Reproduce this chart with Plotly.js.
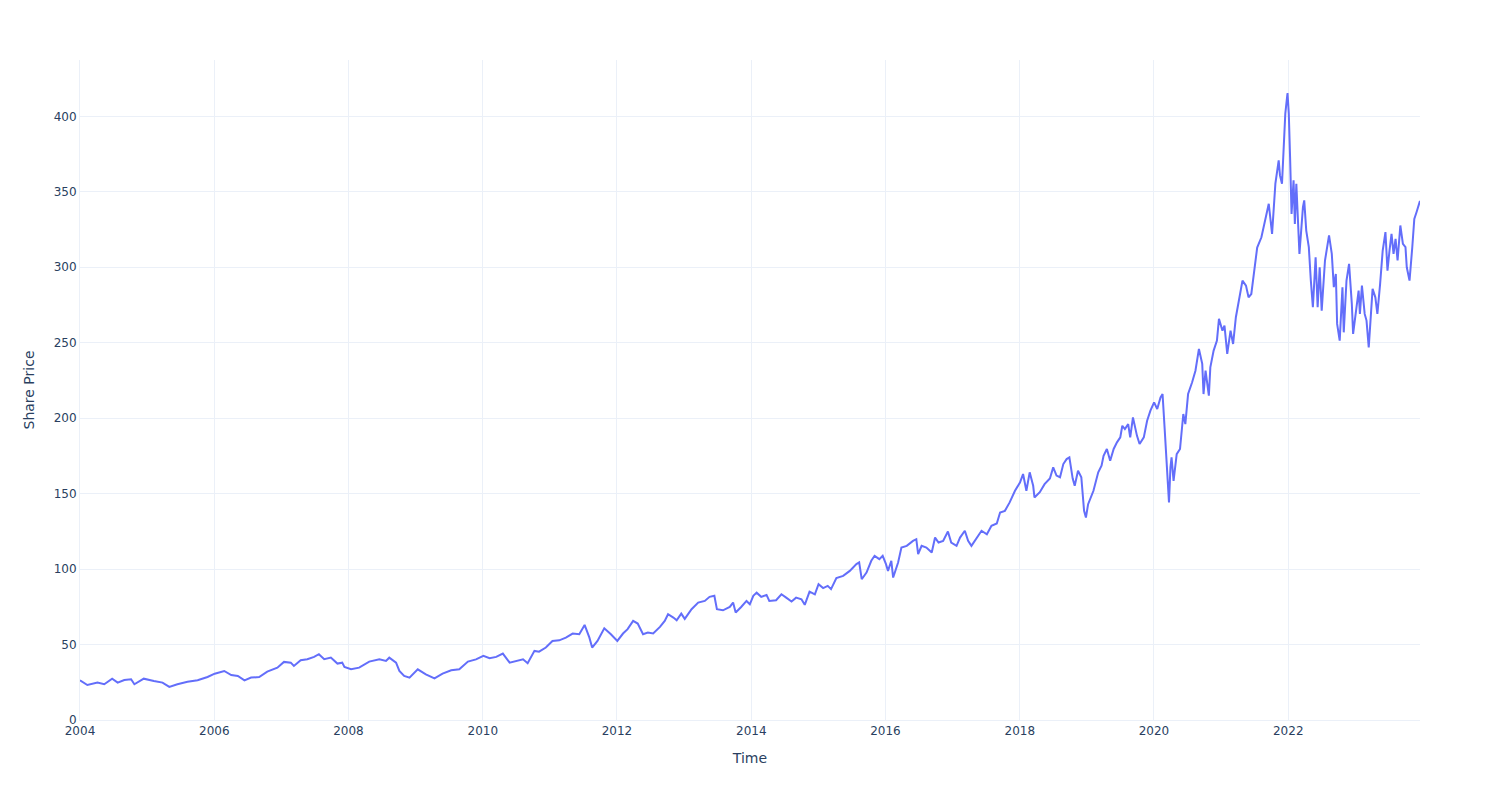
<!DOCTYPE html>
<html>
<head>
<meta charset="utf-8">
<script src="https://cdn.plot.ly/plotly-3.0.1.min.js"></script>
<style>html,body{margin:0;padding:0;background:#fff;}#chart{width:1500px;height:800px;}</style>
</head>
<body>
<div id="chart"></div>
<script>
const dates = [
"2004-01-01","2004-02-10","2004-04-05","2004-05-12","2004-06-24","2004-07-24","2004-08-29","2004-10-05","2004-10-23","2004-12-13",
"2005-02-06","2005-03-25","2005-05-01","2005-06-14","2005-08-08","2005-10-02","2005-11-25",
"2006-01-03","2006-02-24","2006-04-03","2006-05-09","2006-06-14","2006-07-20","2006-09-02","2006-10-16","2006-12-10",
"2007-01-15","2007-02-21","2007-03-10","2007-04-16","2007-05-22","2007-06-28","2007-07-24","2007-08-22","2007-09-27","2007-11-02","2007-11-28","2007-12-10",
"2008-01-15","2008-02-28","2008-04-23","2008-06-17","2008-07-23","2008-08-10","2008-09-16","2008-10-04","2008-10-30","2008-11-28",
"2009-01-12","2009-02-25","2009-04-13","2009-05-27","2009-07-13","2009-08-26","2009-10-12","2009-11-25",
"2010-01-04","2010-02-07","2010-03-15","2010-04-20","2010-05-27","2010-07-02","2010-08-08","2010-09-02","2010-10-09","2010-11-03","2010-12-10",
"2011-01-15","2011-02-21","2011-03-29","2011-05-05","2011-06-10","2011-07-09","2011-08-04","2011-08-19","2011-09-17","2011-10-24","2011-11-29",
"2012-01-03","2012-02-03","2012-02-28","2012-03-29","2012-04-23","2012-05-22","2012-06-17","2012-07-16","2012-08-22","2012-09-17","2012-10-05","2012-11-03","2012-11-21","2012-12-16",
"2013-01-04","2013-02-10","2013-03-18","2013-04-23","2013-05-19","2013-06-14","2013-06-28","2013-07-31","2013-09-06","2013-09-24","2013-10-08","2013-11-07","2013-12-06","2013-12-24",
"2014-01-12","2014-01-30","2014-02-24","2014-03-25","2014-04-09","2014-05-16","2014-06-14","2014-07-10","2014-08-08","2014-09-02","2014-10-01","2014-10-19","2014-11-14","2014-12-13",
"2015-01-02","2015-01-27","2015-02-21","2015-03-11","2015-04-09","2015-05-16","2015-06-21","2015-07-27","2015-08-11","2015-08-25","2015-09-20","2015-10-16","2015-11-03","2015-11-29","2015-12-17",
"2016-01-04","2016-01-15","2016-02-02","2016-02-12","2016-03-10","2016-03-28","2016-04-26","2016-05-30","2016-06-17","2016-06-27","2016-07-16","2016-08-11","2016-09-09","2016-09-27","2016-10-16","2016-11-10","2016-12-06","2016-12-24",
"2017-01-22","2017-02-10","2017-03-08","2017-03-26","2017-04-13","2017-05-12","2017-06-07","2017-07-06","2017-07-31","2017-08-29","2017-09-16","2017-10-12","2017-11-07","2017-12-06",
"2018-01-02","2018-01-19","2018-02-06","2018-02-24","2018-03-15","2018-03-22","2018-04-20","2018-05-16","2018-06-14","2018-07-02","2018-07-20","2018-08-08","2018-08-26","2018-09-13","2018-09-28","2018-10-16","2018-10-27","2018-11-14","2018-12-02","2018-12-17","2018-12-27",
"2019-01-08","2019-02-06","2019-03-04","2019-03-22","2019-04-02","2019-04-20","2019-05-08","2019-05-27","2019-06-14","2019-07-02","2019-07-13","2019-07-27","2019-08-14","2019-08-25","2019-09-09","2019-10-01","2019-10-15","2019-11-07","2019-11-25","2019-12-13",
"2020-01-02","2020-01-19","2020-02-06","2020-02-17","2020-02-28","2020-03-13","2020-03-18","2020-03-23","2020-03-31","2020-04-06","2020-04-17","2020-05-04","2020-05-22","2020-06-09","2020-06-20","2020-07-05","2020-07-27","2020-08-14","2020-09-02","2020-09-20","2020-09-27","2020-10-08","2020-10-26","2020-11-03","2020-11-21","2020-12-09","2020-12-20",
"2021-01-08","2021-01-19","2021-02-03","2021-02-21","2021-03-07","2021-03-22","2021-04-09","2021-04-27","2021-05-16","2021-05-30","2021-06-14","2021-06-28","2021-07-16","2021-08-08","2021-09-02","2021-09-17","2021-10-05","2021-10-23","2021-11-10","2021-11-17","2021-11-28","2021-12-05","2021-12-16","2021-12-28",
"2022-01-04","2022-01-11","2022-01-19","2022-01-30","2022-02-06","2022-02-14","2022-02-24","2022-03-03","2022-03-22","2022-03-29","2022-04-09","2022-04-23","2022-05-04","2022-05-15","2022-05-30","2022-06-10","2022-06-21","2022-07-02","2022-07-20","2022-08-11","2022-08-26","2022-09-06","2022-09-17","2022-09-24","2022-10-08","2022-10-23","2022-10-30","2022-11-14","2022-11-28","2022-12-13","2022-12-20",
"2023-01-04","2023-01-19","2023-01-26","2023-02-06","2023-02-21","2023-03-03","2023-03-15","2023-03-29","2023-04-05","2023-04-20","2023-05-01","2023-05-16","2023-05-30","2023-06-14","2023-06-25","2023-07-06","2023-07-17","2023-07-28","2023-08-08","2023-08-19","2023-09-03","2023-09-17","2023-10-01","2023-10-08","2023-10-23","2023-11-07","2023-11-18","2023-11-30","2023-12-15","2023-12-19"
];
const sharePrice = [
26.3,23.2,24.8,23.7,27.4,24.8,26.5,27.0,23.7,27.4,
25.9,24.8,21.9,23.7,25.4,26.3,28.5,
30.7,32.5,29.8,29.2,26.3,28.1,28.5,32.1,34.7,
38.5,38.0,35.8,39.6,40.3,41.8,43.6,40.3,41.4,37.4,38.0,35.2,
33.6,34.7,38.7,40.2,39.1,41.3,38.0,32.5,29.2,28.1,
33.6,30.3,27.6,30.7,32.9,33.6,38.7,40.2,
42.5,40.9,41.8,44.0,38.0,39.1,40.2,37.6,45.8,45.3,48.0,
52.4,52.8,54.6,57.3,56.8,63.0,54.6,48.0,52.4,60.8,56.8,
52.4,57.3,60.2,65.7,63.9,56.8,57.9,57.3,61.7,65.7,70.1,67.9,66.1,70.5,
67.0,73.4,77.8,78.9,81.6,82.3,73.4,72.7,74.9,77.8,71.2,74.9,78.9,76.7,
82.3,84.4,81.6,82.9,78.9,79.4,83.3,81.1,78.5,81.1,80.0,76.3,85.1,83.3,
90.0,87.4,88.9,86.7,94.0,95.5,98.8,103.3,104.4,93.3,97.7,105.5,108.8,106.6,108.8,
103.3,98.8,105.5,94.4,104.4,114.3,115.4,118.7,119.8,110.0,115.4,114.3,111.0,120.9,117.6,118.7,124.9,117.6,
115.4,120.9,125.4,118.7,115.4,120.9,125.4,123.1,128.7,130.2,137.5,138.6,144.2,151.9,
157.4,163.0,151.9,164.1,155.2,147.5,151.0,156.3,160.0,167.4,162.0,160.9,169.6,172.9,174.0,160.0,155.2,165.2,160.9,138.6,134.2,
143.0,151.9,164.1,168.5,175.1,179.6,171.8,179.6,184.0,187.3,195.0,192.8,196.1,187.3,200.5,188.3,182.9,187.3,198.3,205.0,
210.5,206.1,213.8,216.0,193.9,165.2,154.1,144.2,167.4,174.0,158.5,176.2,179.6,202.8,196.1,216.0,223.8,231.5,245.9,236.0,216.0,231.5,214.9,233.7,244.8,251.4,265.8,
258.0,261.3,242.6,258.0,249.2,266.9,280.1,291.2,287.9,280.1,282.3,295.6,313.1,319.9,335.4,342.1,322.1,355.4,370.8,360.9,355.4,371.9,401.8,415.5,
401.8,373.0,335.4,357.6,328.7,355.4,324.3,308.9,339.8,344.3,324.3,313.3,291.2,273.5,306.7,273.5,300.0,271.3,304.5,321.1,308.9,286.8,295.6,262.5,251.4,286.8,256.9,291.2,302.3,275.8,255.8,
269.1,284.6,269.1,287.9,269.1,264.7,246.9,273.5,285.7,280.1,269.1,289.0,311.1,323.3,297.8,311.1,322.1,308.9,318.8,304.5,327.7,315.5,313.3,300.0,291.2,313.3,332.0,336.5,342.1,344.0
];
const xTitle = "Time";
const yTitle = "Share Price";

const trace = {
  x: dates, y: sharePrice, type: "scatter", mode: "lines",
  line: {color: "#636efa", width: 2}, name: ""
};
const layout = {
  width: 1500, height: 800,
  margin: {l: 80, r: 80, t: 60, b: 80},
  paper_bgcolor: "#ffffff", plot_bgcolor: "#ffffff",
  font: {family: "'DejaVu Sans', Verdana, sans-serif", color: "#2a3f5f", size: 12},
  showlegend: false,
  xaxis: {
    title: {text: xTitle, standoff: 15},
    gridcolor: "#EBF0F8", linecolor: "#EBF0F8", zerolinecolor: "#EBF0F8", zerolinewidth: 2,
    showgrid: true, ticks: "", automargin: true
  },
  yaxis: {
    title: {text: yTitle, standoff: 15},
    rangemode: "tozero",
    gridcolor: "#EBF0F8", linecolor: "#EBF0F8", zerolinecolor: "#EBF0F8", zerolinewidth: 2,
    showgrid: true, ticks: "", automargin: true
  }
};
Plotly.newPlot("chart", [trace], layout, {displayModeBar: false});
</script>
</body>
</html>
